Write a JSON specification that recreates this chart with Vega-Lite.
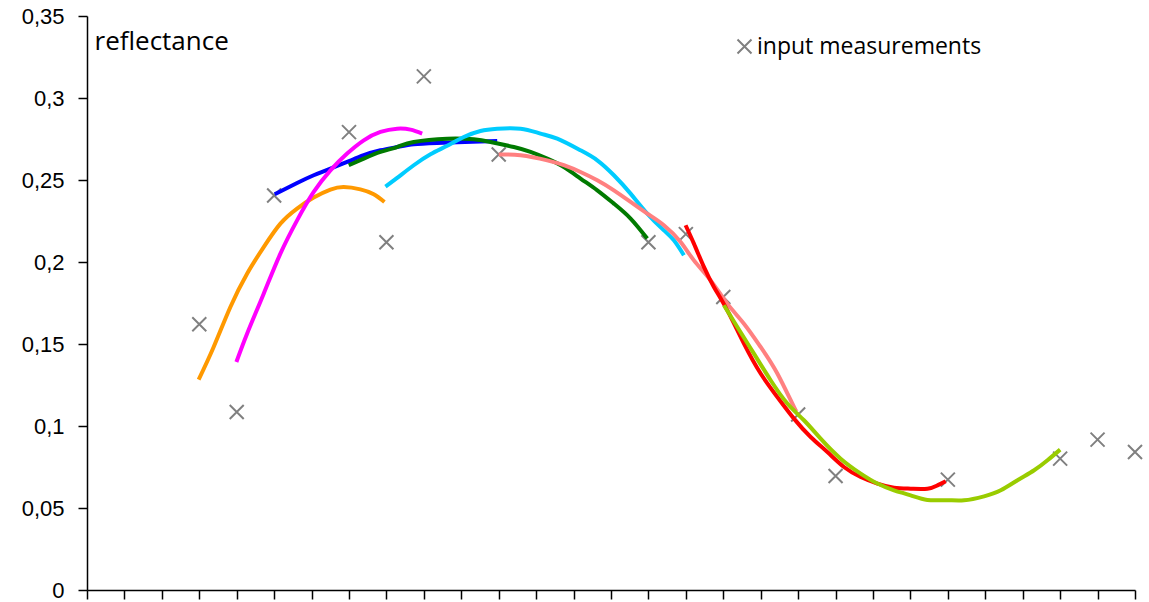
{
  "$schema": "https://vega.github.io/schema/vega-lite/v6.json",
  "width": 1048,
  "height": 574,
  "autosize": {"type": "none"},
  "padding": {"left": 87, "top": 16, "right": 14, "bottom": 12},
  "background": "white",
  "config": {
    "view": {"stroke": null},
    "axis": {"grid": false, "domainColor": "black", "tickColor": "black", "domainWidth": 1.5, "tickWidth": 1.5, "tickSize": 9}
  },
  "datasets": {
    "curves": [
      {"series": "A", "x": 2.983, "r": 0.1283}, {"series": "A", "x": 3.384, "r": 0.1482}, {"series": "A", "x": 3.831, "r": 0.1726}, {"series": "A", "x": 4.277, "r": 0.1929}, {"series": "A", "x": 4.721, "r": 0.2091}, {"series": "A", "x": 5.168, "r": 0.2234}, {"series": "A", "x": 5.613, "r": 0.2326}, {"series": "A", "x": 6.057, "r": 0.2393}, {"series": "A", "x": 6.504, "r": 0.2441}, {"series": "A", "x": 6.859, "r": 0.2457}, {"series": "A", "x": 7.305, "r": 0.2443}, {"series": "A", "x": 7.661, "r": 0.2413}, {"series": "A", "x": 7.947, "r": 0.2366},
      {"series": "B", "x": 5.015, "r": 0.2413}, {"series": "B", "x": 5.613, "r": 0.2482}, {"series": "B", "x": 6.057, "r": 0.2529}, {"series": "B", "x": 6.504, "r": 0.257}, {"series": "B", "x": 6.95, "r": 0.261}, {"series": "B", "x": 7.394, "r": 0.2651}, {"series": "B", "x": 7.84, "r": 0.2681}, {"series": "B", "x": 8.287, "r": 0.2701}, {"series": "B", "x": 8.73, "r": 0.2718}, {"series": "B", "x": 9.356, "r": 0.2726}, {"series": "B", "x": 10.513, "r": 0.2735}, {"series": "B", "x": 10.96, "r": 0.2738},
      {"series": "C", "x": 3.991, "r": 0.139}, {"series": "C", "x": 4.277, "r": 0.1563}, {"series": "C", "x": 4.721, "r": 0.1807}, {"series": "C", "x": 5.167, "r": 0.2051}, {"series": "C", "x": 5.613, "r": 0.2254}, {"series": "C", "x": 6.057, "r": 0.2427}, {"series": "C", "x": 6.504, "r": 0.2559}, {"series": "C", "x": 6.95, "r": 0.2661}, {"series": "C", "x": 7.394, "r": 0.2742}, {"series": "C", "x": 7.84, "r": 0.2793}, {"series": "C", "x": 8.287, "r": 0.2813}, {"series": "C", "x": 8.643, "r": 0.2807}, {"series": "C", "x": 8.955, "r": 0.2783},
      {"series": "D", "x": 6.993, "r": 0.259}, {"series": "D", "x": 7.394, "r": 0.263}, {"series": "D", "x": 7.84, "r": 0.2671}, {"series": "D", "x": 8.287, "r": 0.2701}, {"series": "D", "x": 8.73, "r": 0.2732}, {"series": "D", "x": 9.623, "r": 0.2752}, {"series": "D", "x": 10.334, "r": 0.2748}, {"series": "D", "x": 10.781, "r": 0.2732}, {"series": "D", "x": 11.404, "r": 0.2701}, {"series": "D", "x": 11.85, "r": 0.2671}, {"series": "D", "x": 12.296, "r": 0.263}, {"series": "D", "x": 12.74, "r": 0.2579}, {"series": "D", "x": 13.186, "r": 0.2509}, {"series": "D", "x": 13.633, "r": 0.2437}, {"series": "D", "x": 14.077, "r": 0.2356}, {"series": "D", "x": 14.523, "r": 0.2265}, {"series": "D", "x": 14.969, "r": 0.2143},
      {"series": "E", "x": 7.974, "r": 0.246}, {"series": "E", "x": 8.287, "r": 0.2513}, {"series": "E", "x": 8.73, "r": 0.259}, {"series": "E", "x": 9.177, "r": 0.2657}, {"series": "E", "x": 9.623, "r": 0.2709}, {"series": "E", "x": 10.067, "r": 0.2762}, {"series": "E", "x": 10.513, "r": 0.2799}, {"series": "E", "x": 10.96, "r": 0.2813}, {"series": "E", "x": 11.583, "r": 0.2813}, {"series": "E", "x": 12.117, "r": 0.2783}, {"series": "E", "x": 12.564, "r": 0.2752}, {"series": "E", "x": 13.186, "r": 0.2681}, {"series": "E", "x": 13.633, "r": 0.262}, {"series": "E", "x": 14.077, "r": 0.2529}, {"series": "E", "x": 14.523, "r": 0.2417}, {"series": "E", "x": 14.969, "r": 0.2295}, {"series": "E", "x": 15.413, "r": 0.2193}, {"series": "E", "x": 15.68, "r": 0.2132}, {"series": "E", "x": 15.948, "r": 0.2041},
      {"series": "F", "x": 11.002, "r": 0.2655}, {"series": "F", "x": 11.583, "r": 0.2651}, {"series": "F", "x": 12.296, "r": 0.262}, {"series": "F", "x": 12.74, "r": 0.259}, {"series": "F", "x": 13.186, "r": 0.2549}, {"series": "F", "x": 13.633, "r": 0.2498}, {"series": "F", "x": 14.077, "r": 0.2437}, {"series": "F", "x": 14.523, "r": 0.2366}, {"series": "F", "x": 14.969, "r": 0.2295}, {"series": "F", "x": 15.413, "r": 0.2224}, {"series": "F", "x": 15.86, "r": 0.2122}, {"series": "F", "x": 16.215, "r": 0.201}, {"series": "F", "x": 16.662, "r": 0.1888}, {"series": "F", "x": 17.108, "r": 0.1746}, {"series": "F", "x": 17.552, "r": 0.1624}, {"series": "F", "x": 17.998, "r": 0.1482}, {"series": "F", "x": 18.444, "r": 0.132}, {"series": "F", "x": 18.888, "r": 0.1116}, {"series": "F", "x": 18.979, "r": 0.1085},
      {"series": "G", "x": 15.993, "r": 0.2224}, {"series": "G", "x": 16.215, "r": 0.2112}, {"series": "G", "x": 16.482, "r": 0.197}, {"series": "G", "x": 16.749, "r": 0.1848}, {"series": "G", "x": 17.108, "r": 0.1705}, {"series": "G", "x": 17.552, "r": 0.1502}, {"series": "G", "x": 17.998, "r": 0.132}, {"series": "G", "x": 18.444, "r": 0.1177}, {"series": "G", "x": 18.888, "r": 0.1045}, {"series": "G", "x": 19.334, "r": 0.0933}, {"series": "G", "x": 19.781, "r": 0.0841}, {"series": "G", "x": 20.225, "r": 0.075}, {"series": "G", "x": 20.671, "r": 0.0689}, {"series": "G", "x": 21.118, "r": 0.0649}, {"series": "G", "x": 21.561, "r": 0.0624}, {"series": "G", "x": 22.007, "r": 0.0618}, {"series": "G", "x": 22.454, "r": 0.0618}, {"series": "G", "x": 22.721, "r": 0.0638}, {"series": "G", "x": 22.943, "r": 0.0663},
      {"series": "H", "x": 17.017, "r": 0.1736}, {"series": "H", "x": 17.375, "r": 0.1604}, {"series": "H", "x": 17.819, "r": 0.1441}, {"series": "H", "x": 18.265, "r": 0.1279}, {"series": "H", "x": 18.712, "r": 0.1137}, {"series": "H", "x": 19.155, "r": 0.1035}, {"series": "H", "x": 19.601, "r": 0.0923}, {"series": "H", "x": 20.136, "r": 0.0801}, {"series": "H", "x": 20.671, "r": 0.071}, {"series": "H", "x": 21.118, "r": 0.0649}, {"series": "H", "x": 21.561, "r": 0.0608}, {"series": "H", "x": 22.007, "r": 0.0577}, {"series": "H", "x": 22.454, "r": 0.0549}, {"series": "H", "x": 22.94, "r": 0.0548}, {"series": "H", "x": 23.432, "r": 0.0547}, {"series": "H", "x": 23.967, "r": 0.0571}, {"series": "H", "x": 24.413, "r": 0.0608}, {"series": "H", "x": 24.86, "r": 0.0669}, {"series": "H", "x": 25.305, "r": 0.073}, {"series": "H", "x": 25.662, "r": 0.0791}, {"series": "H", "x": 26.0, "r": 0.0856}
    ],
    "measurements": [
      {"x": 3, "r": 0.162}, {"x": 4, "r": 0.1085}, {"x": 5, "r": 0.2405}, {"x": 7, "r": 0.2792}, {"x": 8, "r": 0.212}, {"x": 9, "r": 0.3132}, {"x": 11, "r": 0.2655}, {"x": 15, "r": 0.212}, {"x": 16, "r": 0.217}, {"x": 17, "r": 0.1787}, {"x": 19, "r": 0.107}, {"x": 20, "r": 0.0695}, {"x": 23, "r": 0.0673}, {"x": 26, "r": 0.0801}, {"x": 27, "r": 0.0917}, {"x": 28, "r": 0.0841}
    ]
  },
  "encoding": {
    "x": {
      "field": "x", "type": "quantitative",
      "scale": {"domain": [0, 28], "nice": false, "zero": false},
      "axis": {"values": [0,1,2,3,4,5,6,7,8,9,10,11,12,13,14,15,16,17,18,19,20,21,22,23,24,25,26,27,28], "labels": false, "title": null}
    },
    "y": {
      "field": "r", "type": "quantitative",
      "scale": {"domain": [0, 0.35], "nice": false},
      "axis": {
        "values": [0, 0.05, 0.1, 0.15, 0.2, 0.25, 0.3, 0.35],
        "labelExpr": "replace(format(datum.value, '~g'), '.', ',')",
        "labelFont": "Liberation Sans", "labelFontSize": 22, "labelColor": "black", "labelPadding": 14,
        "title": "reflectance", "titleAngle": 0, "titleAlign": "left", "titleBaseline": "alphabetic",
        "titleX": 7, "titleY": 33, "titleFont": "Open Sans", "titleFontSize": 26, "titleFontWeight": "normal", "titleColor": "black"
      }
    }
  },
  "layer": [
    {
      "data": {"name": "measurements"},
      "mark": {"type": "point", "filled": false, "stroke": "#808080", "strokeWidth": 2, "size": 196, "opacity": 1},
      "encoding": {
        "shape": {
          "datum": "input measurements",
          "scale": {"range": ["M-1,-1L1,1M-1,1L1,-1"]},
          "legend": {
            "orient": "none", "legendX": 646, "legendY": 19, "padding": 0, "title": null,
            "symbolStrokeColor": "#808080", "symbolStrokeWidth": 2, "symbolSize": 196, "symbolFillColor": "transparent",
            "labelFont": "Open Sans", "labelFontSize": 23, "labelColor": "black", "labelOffset": 1, "labelLimit": 400
          }
        }
      }
    },
    {
      "data": {"name": "curves"},
      "mark": {"type": "line", "strokeWidth": 4, "interpolate": "natural"},
      "encoding": {
        "color": {
          "field": "series", "type": "nominal",
          "scale": {"domain": ["A", "B", "C", "D", "E", "F", "G", "H"], "range": ["#FF9900", "#0000FF", "#FF00FF", "#007A00", "#00CCFF", "#FF8080", "#FF0000", "#99CC00"]},
          "legend": null
        }
      }
    }
  ]
}
